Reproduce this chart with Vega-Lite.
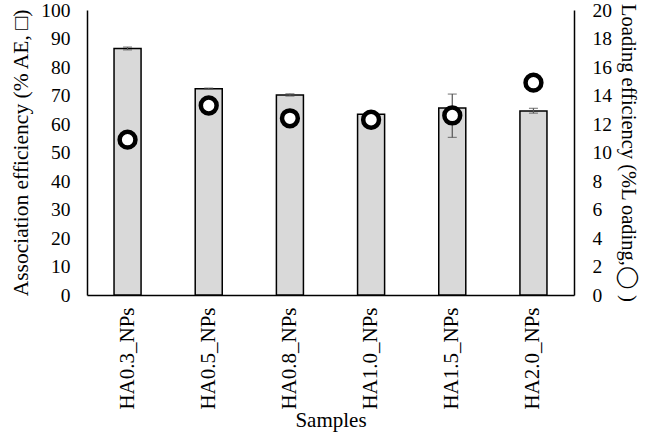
{
  "$schema": "https://vega.github.io/schema/vega-lite/v6.json",
  "width": 487,
  "height": 285,
  "autosize": {"type": "none"},
  "padding": {"left": 87, "top": 10, "right": 76, "bottom": 142},
  "background": "white",
  "config": {
    "view": {"stroke": null},
    "font": "Liberation Serif",
    "axis": {"labelFont": "Liberation Serif", "titleFont": "Liberation Serif", "labelColor": "black", "titleColor": "black", "titleFontWeight": "normal", "grid": false, "domainColor": "black", "domainWidth": 1.5, "ticks": false, "labelOverlap": false}
  },
  "data": {"values": [
    {"sample": "HA0.3_NPs", "ae": 86.5, "ae_lo": 86.0, "ae_hi": 87.0, "le": 10.9},
    {"sample": "HA0.5_NPs", "ae": 72.4, "ae_lo": 72.2, "ae_hi": 72.6, "le": 13.3},
    {"sample": "HA0.8_NPs", "ae": 70.2, "ae_lo": 69.8, "ae_hi": 70.6, "le": 12.4},
    {"sample": "HA1.0_NPs", "ae": 63.4, "ae_lo": 63.2, "ae_hi": 63.6, "le": 12.3},
    {"sample": "HA1.5_NPs", "ae": 65.6, "ae_lo": 55.3, "ae_hi": 70.5, "le": 12.6},
    {"sample": "HA2.0_NPs", "ae": 64.6, "ae_lo": 63.8, "ae_hi": 65.5, "le": 14.9}
  ]},
  "encoding": {
    "x": {"field": "sample", "type": "nominal", "sort": null,
      "scale": {"paddingInner": 0.667, "paddingOuter": 0.333},
      "axis": {"title": "Samples", "labelAngle": -90, "labelFontSize": 21, "titleFontSize": 21, "labelPadding": 12, "titlePadding": 0, "labelAlign": "right", "labelBaseline": "middle"}}
  },
  "layer": [
    {
      "layer": [
        {
          "mark": {"type": "bar", "fill": "#d9d9d9", "stroke": "black", "strokeWidth": 1.5},
          "encoding": {
            "y": {"field": "ae", "type": "quantitative", "scale": {"domain": [0, 100]},
              "axis": {"title": "Association efficiency (% AE, □)", "values": [0,10,20,30,40,50,60,70,80,90,100], "labelFontSize": 19.5, "titleFontSize": 21.5, "labelPadding": 17, "titlePadding": 8}}
          }
        },
        {
          "mark": {"type": "errorbar", "ticks": {"size": 9}, "color": "#555555", "thickness": 1.2},
          "encoding": {
            "y": {"field": "ae_lo", "type": "quantitative", "scale": {"domain": [0, 100]},
              "axis": {"title": "Association efficiency (% AE, □)", "values": [0,10,20,30,40,50,60,70,80,90,100], "labelFontSize": 19.5, "titleFontSize": 21.5, "labelPadding": 17, "titlePadding": 8}},
            "y2": {"field": "ae_hi"}
          }
        }
      ]
    },
    {
      "mark": {"type": "point", "shape": "circle", "filled": false, "fill": "white", "fillOpacity": 1, "stroke": "black", "strokeWidth": 4.5, "size": 250, "opacity": 1},
      "encoding": {
        "y": {"field": "le", "type": "quantitative", "scale": {"domain": [0, 20]},
          "axis": {"orient": "right", "title": "Loading efficiency (%L oading,◯ )", "values": [0,2,4,6,8,10,12,14,16,18,20], "labelFontSize": 19.5, "titleFontSize": 20.5, "labelPadding": 18, "titlePadding": 6}}
      }
    }
  ],
  "resolve": {"scale": {"y": "independent"}}
}
